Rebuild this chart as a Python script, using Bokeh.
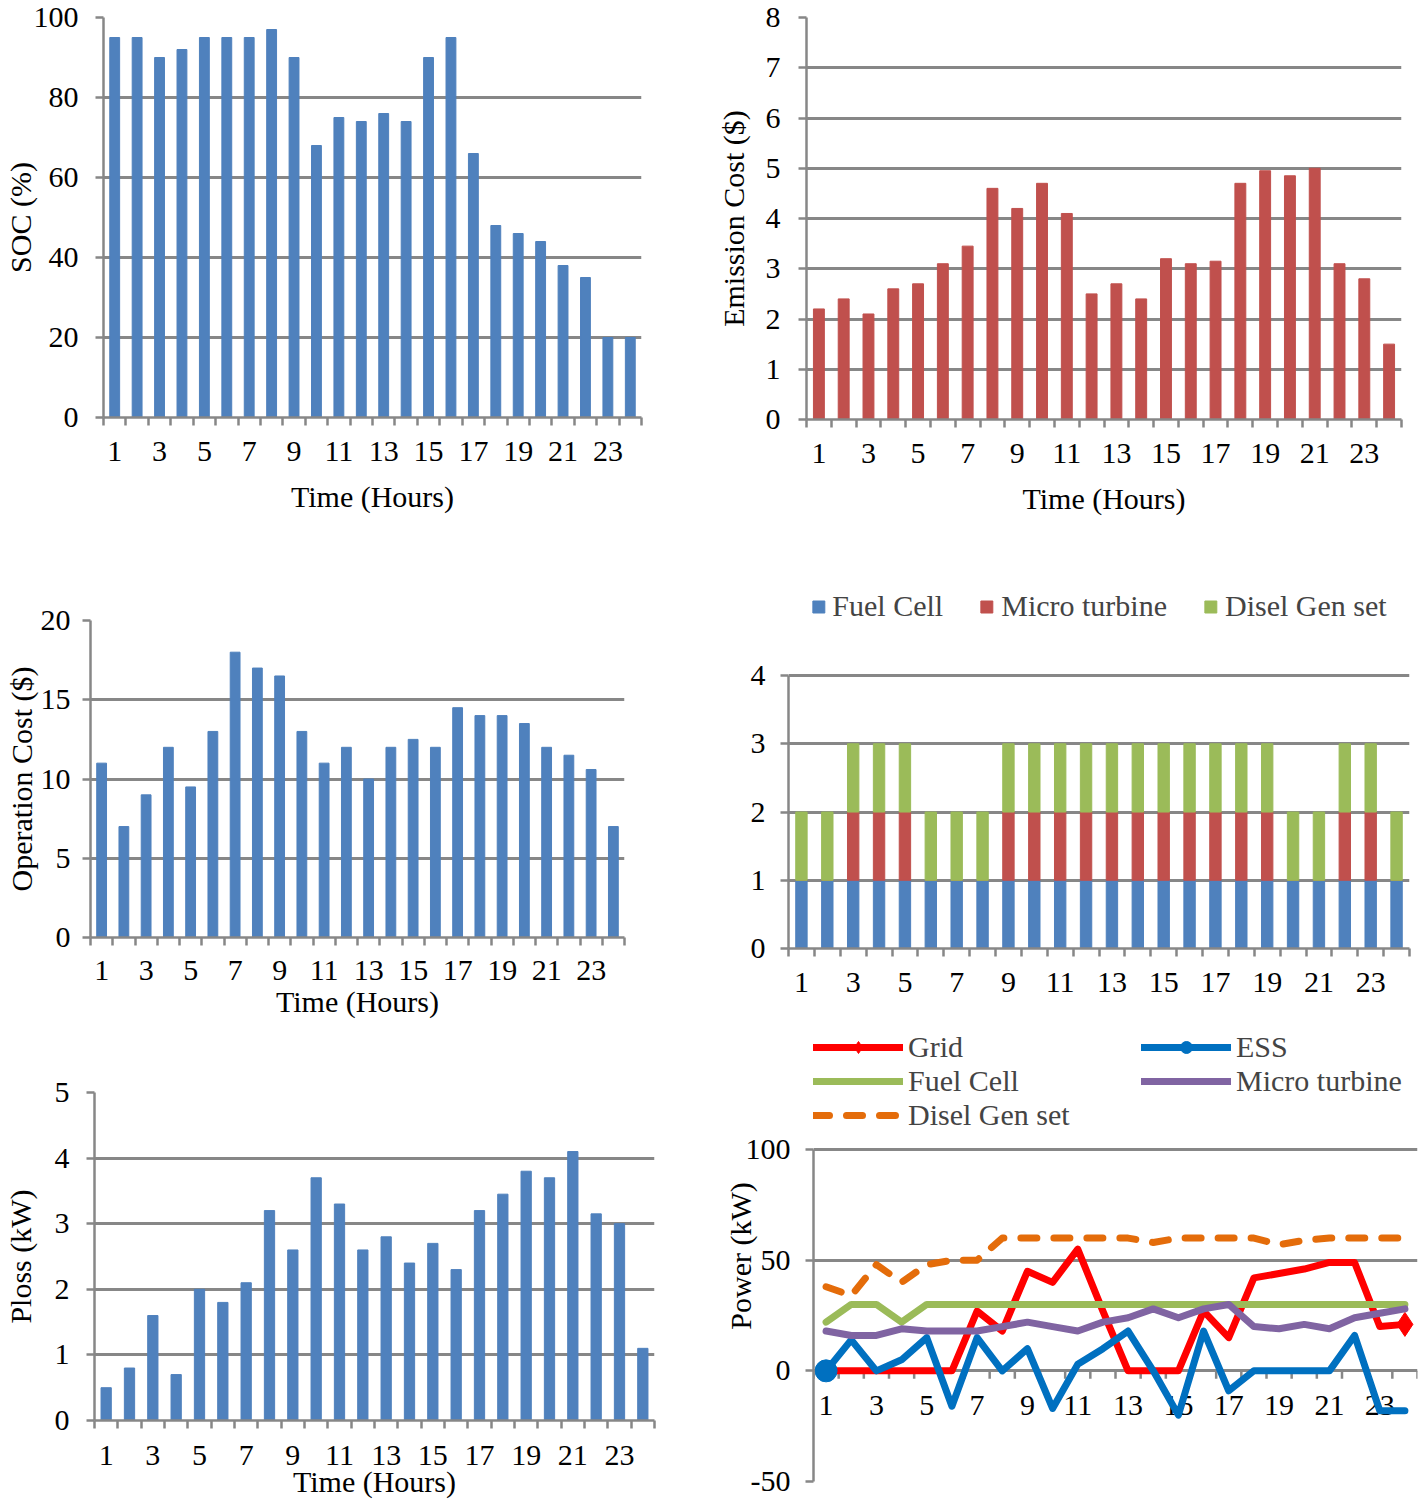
import math
from bokeh.plotting import figure
from bokeh.layouts import column, row
from bokeh.models import Range1d, FixedTicker, Legend, LegendItem, ColumnDataSource
from bokeh.core.properties import value
from bokeh.embed import file_html
from bokeh.resources import INLINE

# ---------------- data ----------------
hours = list(range(1, 25))
odd_hour_ticks = [1, 3, 5, 7, 9, 11, 13, 15, 17, 19, 21, 23]
odd_hour_labels = ["1", "3", "5", "7", "9", "11", "13", "15", "17", "19", "21", "23"]

soc = [95, 95, 90, 92, 95, 95, 95, 97, 90, 68, 75, 74, 76, 74, 90, 95, 66, 48, 46, 44, 38, 35, 20, 20]
emission_cost = [2.2, 2.4, 2.1, 2.6, 2.7, 3.1, 3.45, 4.6, 4.2, 4.7, 4.1, 2.5, 2.7, 2.4, 3.2, 3.1, 3.15, 4.7,
                 4.95, 4.85, 5.0, 3.1, 2.8, 1.5]
operation_cost = [11, 7, 9, 12, 9.5, 13, 18, 17, 16.5, 13, 11, 12, 10, 12, 12.5, 12, 14.5, 14, 14, 13.5, 12,
                  11.5, 10.6, 7]
ploss = [0.5, 0.8, 1.6, 0.7, 2.0, 1.8, 2.1, 3.2, 2.6, 3.7, 3.3, 2.6, 2.8, 2.4, 2.7, 2.3, 3.2, 3.45, 3.8, 3.7,
         4.1, 3.15, 3.0, 1.1]

fuel_cell_on = [1, 1, 1, 1, 1, 1, 1, 1, 1, 1, 1, 1, 1, 1, 1, 1, 1, 1, 1, 1, 1, 1, 1, 1]
micro_turbine_on = [0, 0, 1, 1, 1, 0, 0, 0, 1, 1, 1, 1, 1, 1, 1, 1, 1, 1, 1, 0, 0, 1, 1, 0]
disel_on = [1, 1, 1, 1, 1, 1, 1, 1, 1, 1, 1, 1, 1, 1, 1, 1, 1, 1, 1, 1, 1, 1, 1, 1]

grid_kw = [0, 0, 0, 0, 0, 0, 27, 18, 45, 40, 55, 27, 0, 0, 0, 27, 15, 42, 44, 46, 49, 49, 20, 21]
ess_kw = [0, 14, 0, 5, 15, -16, 15, 0, 10, -17, 3, 10, 18, 0, -20, 18, -9, 0, 0, 0, 0, 16, -18, -18]
fuel_cell_kw = [22, 30, 30, 22, 30, 30, 30, 30, 30, 30, 30, 30, 30, 30, 30, 30, 30, 30, 30, 30, 30, 30, 30, 30]
micro_turbine_kw = [18, 16, 16, 19, 18, 18, 18, 20, 22, 20, 18, 22, 24, 28, 24, 28, 30, 20, 19, 21, 19, 24, 26, 28]
disel_kw = [38, 34, 48, 40, 48, 50, 50, 60, 60, 60, 60, 60, 60, 58, 60, 60, 60, 60, 57, 59, 60, 60, 60, 60]

# ---------------- style ----------------
FONT = "Liberation Serif"
FS = "30px"
GRIDC = "#878787"
BLUE = "#4F81BD"
RED = "#C0504D"
GREEN = "#9BBB59"
category_bounds = [0.5 + i for i in range(25)]


def base_fig(w, h, bl, br, bt, bb, y0, y1, yticks, ylabel=None, xlabel=None,
             y_std=15, y_lab_std=10, x_std=10, x_lab_std=10):
    p = figure(width=w, height=h, x_range=Range1d(0.5, 24.5), y_range=Range1d(y0, y1),
               output_backend="svg", toolbar_location=None, frame_align=False,
               min_border_left=bl, min_border_right=br, min_border_top=bt, min_border_bottom=bb)
    p.outline_line_color = None
    p.xgrid.visible = False
    p.ygrid.grid_line_color = GRIDC
    p.ygrid.grid_line_width = 3
    p.yaxis.ticker = FixedTicker(ticks=yticks)
    p.yaxis.bounds = (min(yticks), max(yticks))
    p.xaxis.ticker = FixedTicker(ticks=odd_hour_ticks, minor_ticks=category_bounds)
    for ax in (p.xaxis[0], p.yaxis[0]):
        ax.axis_line_color = GRIDC
        ax.axis_line_width = 2.5
        ax.major_label_text_font = FONT
        ax.major_label_text_font_size = FS
        ax.major_label_text_color = "black"
        ax.axis_label_text_font = FONT
        ax.axis_label_text_font_size = FS
        ax.axis_label_text_font_style = "normal"
        ax.axis_label_text_color = "black"
    p.xaxis.major_tick_line_color = None
    p.xaxis.major_tick_out = 8
    p.xaxis.major_tick_in = 0
    p.xaxis.minor_tick_line_color = GRIDC
    p.xaxis.minor_tick_line_width = 2.5
    p.xaxis.minor_tick_out = 8
    p.xaxis.minor_tick_in = 0
    p.xaxis.major_label_standoff = x_std
    p.xaxis.axis_label_standoff = x_lab_std
    p.yaxis.major_tick_line_color = GRIDC
    p.yaxis.major_tick_line_width = 2.5
    p.yaxis.major_tick_out = 8
    p.yaxis.major_tick_in = 0
    p.yaxis.minor_tick_line_color = None
    p.yaxis.major_label_standoff = y_std
    p.yaxis.axis_label_standoff = y_lab_std
    if ylabel:
        p.yaxis.axis_label = ylabel
    if xlabel:
        p.xaxis.axis_label = xlabel
    return p


BW = 0.44

# Row 1 (height 530)
p1 = base_fig(700, 530, 100, 59, 17, 113, 0, 100, [0, 20, 40, 60, 80, 100],
              ylabel="SOC (%)", xlabel="Time (Hours)", y_std=17, y_lab_std=-6, x_std=16, x_lab_std=16)
p1.vbar(x=hours, top=soc, width=BW, color=BLUE)

p2 = base_fig(719, 530, 106, 18, 17, 111, 0, 8, [0, 1, 2, 3, 4, 5, 6, 7, 8],
              ylabel="Emission Cost ($)", xlabel="Time (Hours)", y_std=18, y_lab_std=13, x_std=16, x_lab_std=16)
p2.vbar(x=hours, top=emission_cost, width=BW, color=RED)

# Row 2 (height 500)
p3 = base_fig(700, 500, 90, 76, 90, 93, 0, 20, [0, 5, 10, 15, 20],
              ylabel="Operation Cost ($)", xlabel="Time (Hours)", y_std=12, y_lab_std=0, x_std=15, x_lab_std=2)
p3.vbar(x=hours, top=operation_cost, width=BW, color=BLUE)

# frame extended upward to hold the legend; axis bounded to 0..4
p4 = base_fig(719, 500, 88, 10, 55, 82, 0, 5.32, [0, 1, 2, 3, 4], y_std=15, x_std=16)
src = ColumnDataSource(data=dict(hours=hours, fc=fuel_cell_on, mt=micro_turbine_on, dg=disel_on))
rs = p4.vbar_stack(["fc", "mt", "dg"], x="hours", width=BW, color=[BLUE, RED, GREEN], source=src)
leg4 = Legend(items=[LegendItem(label="Fuel Cell", renderers=[rs[0]]),
                     LegendItem(label="Micro turbine", renderers=[rs[1]]),
                     LegendItem(label="Disel Gen set", renderers=[rs[2]])],
              orientation="horizontal", location="top_center")
leg4.label_text_font = FONT
leg4.label_text_font_size = "30px"
leg4.glyph_width = 15
leg4.glyph_height = 15
leg4.label_standoff = 7
leg4.spacing = 36
leg4.padding = 0
leg4.margin = 4
leg4.border_line_color = None
leg4.background_fill_alpha = 0
p4.add_layout(leg4)

# Row 3 (height 470)
p5 = base_fig(700, 470, 93, 46, 62, 79, 0, 5, [0, 1, 2, 3, 4, 5],
              ylabel="Ploss (kW)", xlabel="Time (Hours)", y_std=17, y_lab_std=15, x_std=17, x_lab_std=-3)
p5.vbar(x=hours, top=ploss, width=BW, color=BLUE)

# frame extended upward to hold the legend; axis bounded to -50..100
p6 = base_fig(719, 470, 113, 2, 0, 19, -50, 153.8, [-50, 0, 50, 100],
              ylabel="Power (kW)", y_std=15, y_lab_std=-14)
p6.yaxis.major_label_overrides = {-50: "-50"}
p6.xaxis.visible = False
# category axis drawn on the zero line
p6.ray(x=category_bounds, y=[0 for _ in category_bounds], length=8, length_units="screen",
       angle=-math.pi / 2, color=GRIDC, line_width=2.5)
p6.text(x=odd_hour_ticks, y=[0 for _ in odd_hour_ticks], text=odd_hour_labels, y_offset=35,
        text_align="center", text_baseline="middle", text_font=value(FONT), text_font_size=FS,
        text_color="black")
lw = 7
r_grid = p6.line(hours, grid_kw, color="#FF0000", line_width=lw, line_join="round", line_cap="round")
r_grid_m = p6.scatter([hours[-1]], [grid_kw[-1]], marker="diamond", size=24, color="#FF0000")
r_ess = p6.line(hours, ess_kw, color="#0070C0", line_width=lw, line_join="round", line_cap="round")
r_ess_m = p6.scatter([hours[0]], [ess_kw[0]], marker="circle", size=22, color="#0070C0")
r_fc = p6.line(hours, fuel_cell_kw, color=GREEN, line_width=lw, line_join="round", line_cap="round")
r_mt = p6.line(hours, micro_turbine_kw, color="#8064A2", line_width=lw, line_join="round", line_cap="round")
r_dg = p6.line(hours, disel_kw, color="#E46C0A", line_width=lw, line_join="round", line_cap="round",
               line_dash="16 17")

leg6 = Legend(items=[LegendItem(label="Grid", renderers=[r_grid, r_grid_m]),
                     LegendItem(label="ESS", renderers=[r_ess, r_ess_m]),
                     LegendItem(label="Fuel Cell", renderers=[r_fc]),
                     LegendItem(label="Micro turbine", renderers=[r_mt]),
                     LegendItem(label="Disel Gen set", renderers=[r_dg])],
              orientation="horizontal", ncols=2, location="top_left")
leg6.label_text_font = FONT
leg6.label_text_font_size = "30px"
leg6.glyph_width = 90
leg6.glyph_height = 30
leg6.label_width = 233
leg6.label_standoff = 5
leg6.spacing = -7
leg6.padding = 0
leg6.margin = 0
leg6.border_line_color = None
leg6.background_fill_alpha = 0
p6.add_layout(leg6)

layout = column(row(p1, p2), row(p3, p4), row(p5, p6))
open("out.html", "w").write(file_html(layout, INLINE))
